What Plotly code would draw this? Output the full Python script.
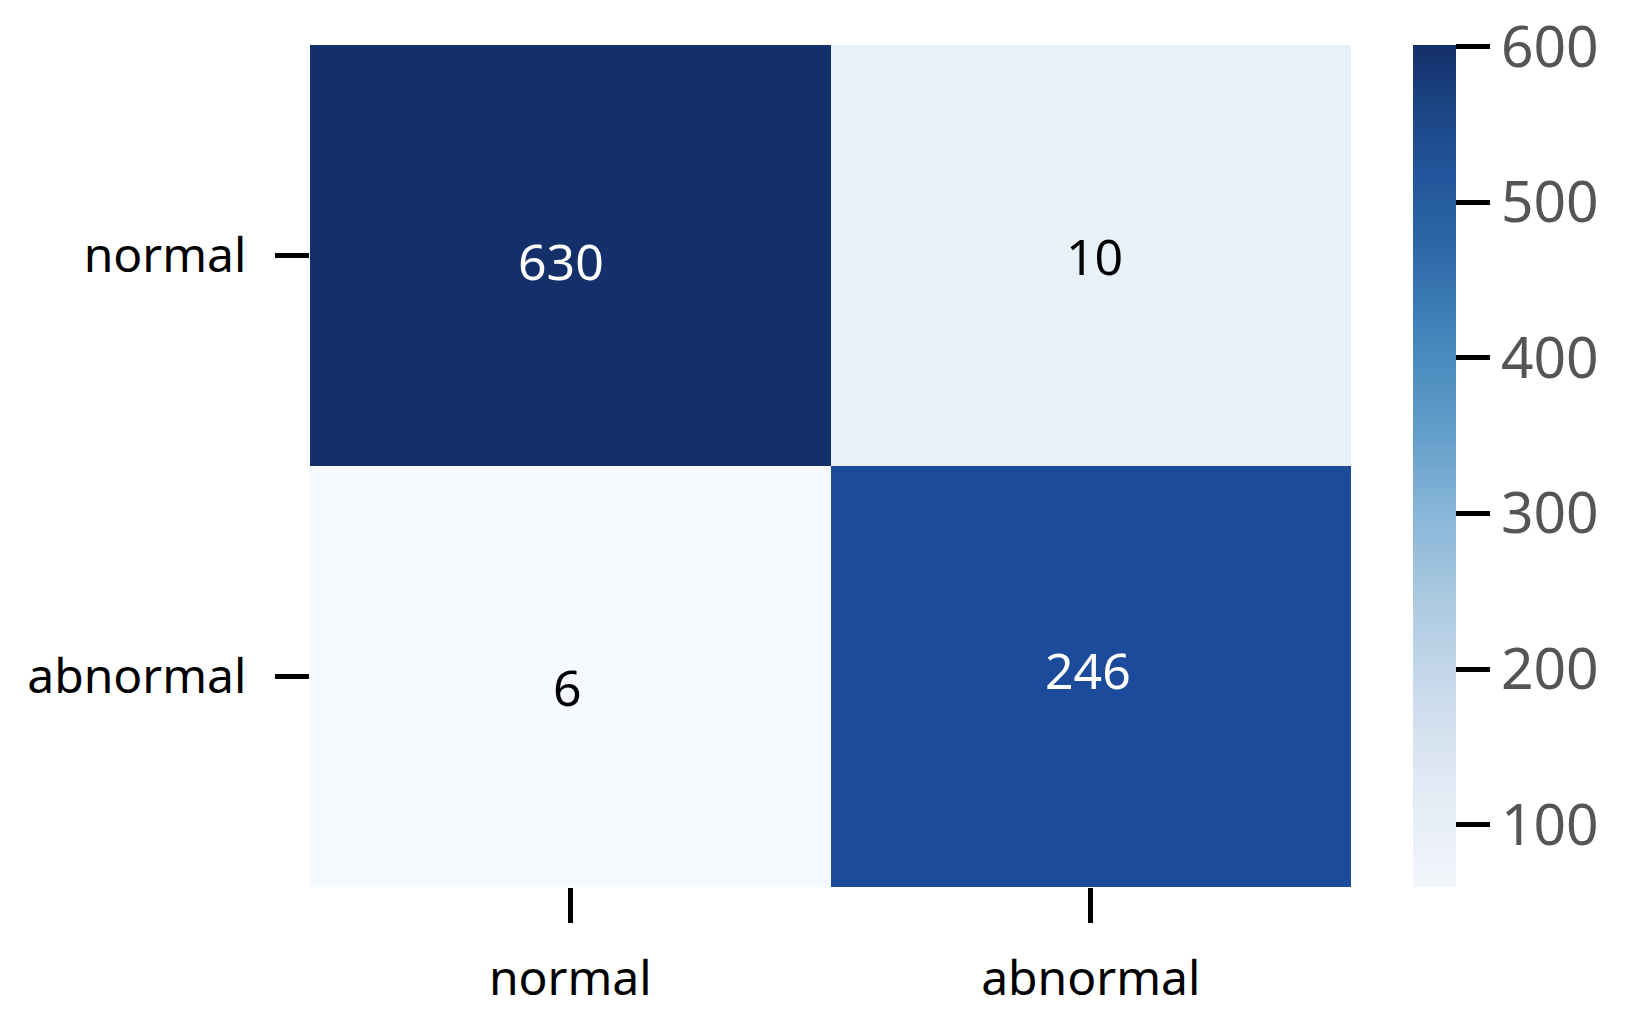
import plotly.graph_objects as go

# ---- data ----
x_labels = ["normal", "abnormal"]
y_labels = ["normal", "abnormal"]
counts = [[630, 10],
          [6, 246]]
cbar_min = 60
cbar_max = 601
cbar_ticks = [100, 200, 300, 400, 500, 600]

FONT = "Noto Sans, Open Sans, DejaVu Sans, sans-serif"

# cell colour mapping (as seen in the picture)
zmin, zmax = 6, 630
def pos(v):
    return (v - zmin) / (zmax - zmin)
cell_scale = [
    [0.0, "#f6faff"],
    [pos(10), "#e8f0f8"],
    [pos(246), "#1c4b9c"],
    [1.0, "#14306a"],
]

bar_scale = [
    [0.00, "#f4f7fc"],
    [0.15, "#dce6f2"],
    [0.25, "#c5d8ea"],
    [0.35, "#a8c8e0"],
    [0.45, "#86b4d8"],
    [0.55, "#5f9cc8"],
    [0.65, "#4486bc"],
    [0.75, "#2f6aaa"],
    [0.85, "#22559b"],
    [0.93, "#1b4483"],
    [1.00, "#14306a"],
]

W, H = 1630, 1013
L, T = 310, 45
R, B = 279, 126
plot_w = W - L - R

fig = go.Figure()
fig.add_trace(go.Heatmap(
    x=x_labels, y=y_labels, z=counts,
    zmin=zmin, zmax=zmax, colorscale=cell_scale,
    showscale=False, xgap=0, ygap=0, hoverinfo="z",
))

# colour bar
fig.add_trace(go.Scatter(
    x=[None, None], y=[None, None], mode="markers",
    marker=dict(
        color=[cbar_min, cbar_max], cmin=cbar_min, cmax=cbar_max,
        colorscale=bar_scale, showscale=True,
        colorbar=dict(
            x=(1413 - L) / plot_w, xanchor="left", xpad=0,
            y=0.5, yanchor="middle", len=1, lenmode="fraction", ypad=0,
            thickness=43, outlinewidth=0,
            tickvals=cbar_ticks, ticks="outside", ticklen=34, tickwidth=5,
            tickcolor="black",
            tickprefix="<span style='font-size:26px'>&nbsp;</span>",
            tickfont=dict(family=FONT, size=57, color="#555555"),
        ),
    ),
    showlegend=False, hoverinfo="skip",
))

# small text nudges seen in the reference
nudges = {(0, 0): (-9, -5), (0, 1): (4, 0), (1, 0): (-3, -10), (1, 1): (-3, 7)}
for i, yl in enumerate(y_labels):
    for j, xl in enumerate(x_labels):
        v = counts[i][j]
        dx, dy = nudges[(i, j)]
        fig.add_annotation(
            x=xl, y=yl, text=str(v), showarrow=False,
            xshift=dx, yshift=dy,
            font=dict(family=FONT, size=50,
                      color="white" if v > 100 else "black"),
        )

fig.update_layout(
    width=W, height=H,
    margin=dict(l=L, r=R, t=T, b=B),
    paper_bgcolor="white", plot_bgcolor="white",
    template="none", showlegend=False,
)
fig.update_xaxes(
    showgrid=False, zeroline=False, showline=False,
    ticks="outside", ticklen=35, tickwidth=5, tickcolor="black",
    tickfont=dict(family=FONT, size=48, color="black"),
    ticklabelstandoff=14,
)
fig.update_yaxes(
    autorange="reversed",
    showgrid=False, zeroline=False, showline=False,
    ticks="outside", ticklen=34, tickwidth=5, tickcolor="black",
    tickfont=dict(family=FONT, size=48, color="black"),
    ticklabelstandoff=19,
)

fig.write_html(
    "out.html",
    config={"displayModeBar": False},
    post_script="document.body.style.margin='0';",
)
